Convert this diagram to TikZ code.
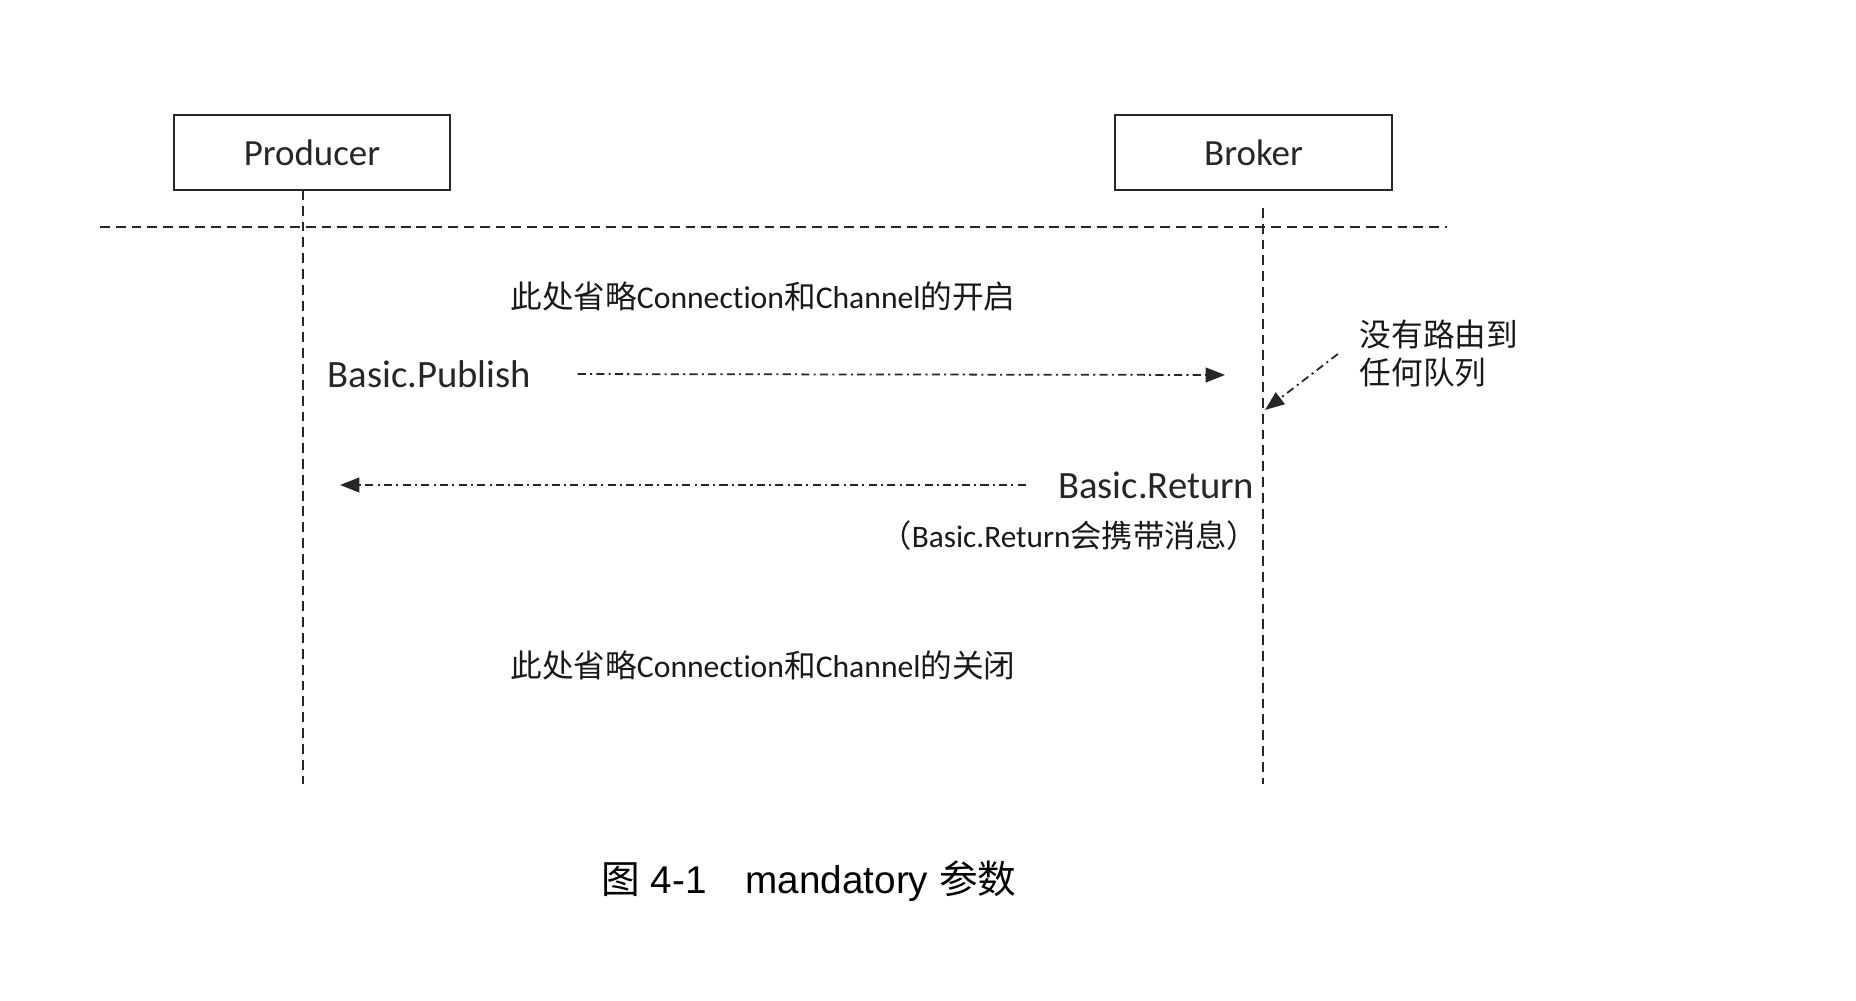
\documentclass[tikz,border=0pt]{standalone}
\usepackage{fontspec}
\setmainfont[Ligatures=NoCommon]{Carlito}
\newfontfamily\cjk{Noto Sans CJK SC}
\newfontfamily\capfont{Liberation Sans}
\usetikzlibrary{arrows.meta}
\newcommand\zh[1]{{\cjk #1}}

\begin{document}
\begin{tikzpicture}[x=0.01cm,y=-0.01cm,>={Triangle[length=5.5pt,width=4.2pt]},
	actor/.style={draw=black!85,line width=0.6pt,minimum width=2.76cm,minimum height=0.75cm,inner sep=0pt,text=black!85,font=\fontsize{10.5}{12}\selectfont},
	life/.style={draw=black!85,line width=0.55pt,dash pattern=on 2.8pt off 1.7pt},
	msg/.style={->,draw=black!85,line width=0.5pt,dash pattern=on 2.3pt off 1.2pt on 0.6pt off 1.2pt},
	big/.style={inner sep=0pt,text=black!85,font=\fontsize{11}{13}\selectfont},
	small/.style={inner sep=0pt,text=black!90,font=\fontsize{9}{10.8}\selectfont}]
	\useasboundingbox (0,0) rectangle (1856,1001);

	% the two parties
	\node[actor] (prod) at (312,152.5) {Producer};
	\node[actor] (brok) at (1253.5,152.5) {Broker};

	% lifelines and separator
	\coordinate (ptop) at (303,190);
	\coordinate (pbot) at (303,784);
	\coordinate (btop) at (1263,208);
	\coordinate (bbot) at (1263,784);
	\coordinate (sepl) at (100,227);
	\coordinate (sepr) at (1447,227);
	\draw[life] (ptop) -- (pbot);
	\draw[life] (btop) -- (bbot);
	\draw[life] (sepl) -- (sepr);

	% messages
	\node[small] (open) at (763,296) {\zh{此处省略}Connection\zh{和}Channel\zh{的开启}};
	\node[big,anchor=west] (pub) at (327,374) {Basic.Publish};
	\coordinate (pubend) at (1225,375);
	\draw[msg,shorten <=13pt] (pub.east) -- (pubend);

	\node[small,anchor=west,align=left] (note) at (1359,354) {\zh{没有路由到}\\\zh{任何队列}};
	\coordinate (hit) at (1265,410);
	\draw[msg] ([xshift=-6pt]note.west) -- (hit);

	\node[big,anchor=east] (ret) at (1255,485) {Basic.Return};
	\coordinate (retend) at (340,485);
	\draw[msg,shorten <=9pt] (ret.west) -- (retend);
	\node[small,anchor=east,font=\fontsize{8.9}{10}\selectfont] (retnote) at (1259,536) {\zh{（}Basic.Return\zh{会携带消息）}};

	\node[small] (close) at (763,665) {\zh{此处省略}Connection\zh{和}Channel\zh{的关闭}};

	% caption
	\node[inner sep=0pt,font=\capfont\fontsize{11}{13}\selectfont] (cap) at (809,881) {\zh{图} 4-1\quad mandatory \zh{参数}};
\end{tikzpicture}
\end{document}
